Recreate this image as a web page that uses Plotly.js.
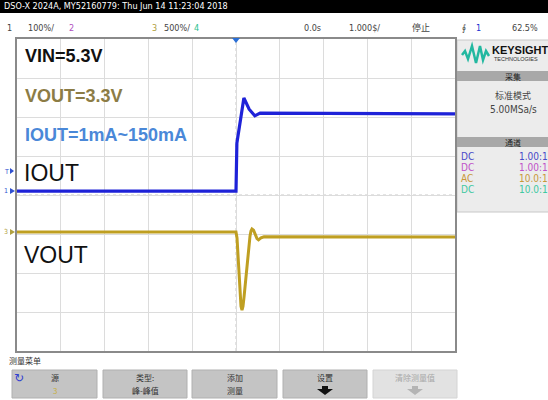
<!DOCTYPE html>
<html><head><meta charset="utf-8">
<script src="https://cdn.plot.ly/plotly-3.0.1.min.js"></script>
<style>html,body{margin:0;padding:0;background:#fff;}#chart{width:548px;height:400px;}</style>
</head><body><div id="chart"></div>
<script>
// ---- data (time in divisions, amplitude in divisions) ----
const ioutTime = [-5, 0, 0.02, 0.18, 0.30, 0.43, 0.55, 5];
const ioutLevel = [0.10, 0.10, 1.33, 2.49, 2.20, 2.03, 2.10, 2.08];
const voutTime = [-5, 0, 0.023, 0.046, 0.068, 0.091, 0.114, 0.137, 0.160, 0.183, 0.217, 0.251, 0.286, 0.320, 0.342, 0.365, 0.400, 0.434, 0.479, 0.514, 0.571, 0.64, 5];
const voutLevel = [-0.95, -0.95, -1.10, -1.50, -2.00, -2.50, -2.85, -2.95, -2.85, -2.62, -2.20, -1.75, -1.35, -1.05, -0.92, -0.87, -0.90, -1.00, -1.12, -1.15, -1.10, -1.07, -1.08];
const headerTitle = "DSO-X 2024A, MY52160779: Thu Jun 14 11:23:04 2018";
const headerItems = ["1", "100%/", "2", "3", "500%/", "4", "0.0s", "1.000$/", "停止", "∮", "1", "62.5%"];
const noteLines = ["VIN=5.3V", "VOUT=3.3V", "IOUT=1mA~150mA"];
const traceLabels = ["IOUT", "VOUT"];
const panelTexts = ["KEYSIGHT", "TECHNOLOGIES", "采集", "标准模式", "5.00MSa/s", "通道"];
const chanCoupling = ["DC", "DC", "AC", "DC"];
const chanProbe = ["1.00:1", "1.00:1", "10.0:1", "10.0:1"];
const menuTitle = "测量菜单";
const buttonTop = ["源", "类型:", "添加", "设置", "清除测量值"];
const buttonBottom = ["3", "峰-峰值", "测量", "", ""];

// ---- geometry helpers (pixel -> paper) ----
const L = 17, R = 455, T = 39, B = 351;
const X = px => (px - L) / (R - L);
const Y = py => (B - py) / (B - T);
const NARROW = "Liberation Sans Narrow, DejaVu Sans Condensed, sans-serif";
const CJK = "Noto Sans CJK SC, sans-serif";

const annotations = [];
const shapes = [];
function ann(text, px, py, size, color, extra) {
  annotations.push(Object.assign({
    text: text, xref: "paper", yref: "paper", x: X(px), y: Y(py),
    xanchor: "left", yanchor: "middle", showarrow: false,
    font: {size: size, color: color, family: NARROW}
  }, extra || {}));
}
function rect(x0, y0, x1, y1, fill, line, extra) {
  shapes.push(Object.assign({
    type: "rect", xref: "paper", yref: "paper", x0: X(x0), x1: X(x1), y0: Y(y0), y1: Y(y1),
    fillcolor: fill, line: {width: line ? 1 : 0, color: line || fill}, layer: "below"
  }, extra || {}));
}
function poly(pts, fill) {
  shapes.push({type: "path", xref: "paper", yref: "paper",
    path: "M " + pts.map(p => X(p[0]) + " " + Y(p[1])).join(" L ") + " Z",
    fillcolor: fill, line: {width: 0}});
}

// header
rect(0, 0, 548, 13, "#000000");
ann(headerTitle, 2, 6.5, 9, "#ffffff");
const hx = [5, 26, 67, 150, 162, 192, 302, 347, 410, 460, 474, 510];
const hc = ["#444", "#444", "#b050c0", "#b0a040", "#444", "#30c090", "#444", "#444", "#444", "#444", "#2030d0", "#444"];
headerItems.forEach((t, i) => ann(t, hx[i], 28, 9, hc[i], {font: {size: 9, color: hc[i], family: (t === "停止" ? CJK : NARROW)}}));

// center dotted axes
shapes.push({type: "line", xref: "paper", yref: "paper", x0: 0.5, x1: 0.5, y0: 0, y1: 1, line: {color: "#c8c8c8", width: 1, dash: "dot"}, layer: "below"});
shapes.push({type: "line", xref: "paper", yref: "paper", x0: 0, x1: 1, y0: 0.5, y1: 0.5, line: {color: "#c8c8c8", width: 1, dash: "dot"}, layer: "below"});

// trigger marker
poly([[232, 38], [240, 38], [236, 43]], "#2a6fd6");

// notes
const noteColors = ["#111111", "#8c7c45", "#4a88d8"];
const noteY = [56, 96, 135];
noteLines.forEach((t, i) => ann("<b>" + t + "</b>", 23, noteY[i], 18, noteColors[i], {font: {size: 18, color: noteColors[i], family: "Liberation Sans, sans-serif"}}));
ann(traceLabels[0], 22, 173, 23, "#111", {font: {size: 23, color: "#111", family: "Liberation Sans, sans-serif"}});
ann(traceLabels[1], 22, 255, 23, "#111", {font: {size: 23, color: "#111", family: "Liberation Sans, sans-serif"}});

// channel markers on left edge
ann("T", 6, 172, 7, "#3050d0", {xanchor: "center"});
ann("1", 6, 191, 7, "#3050d0", {xanchor: "center"});
ann("3", 6, 232, 7, "#b0a040", {xanchor: "center"});
poly([[10, 168], [14, 171], [10, 174]], "#3050d0");
poly([[10, 188], [15, 191], [10, 194]], "#3050d0");
poly([[10, 229], [15, 232], [10, 235]], "#b0a040");

// right panel
shapes.push({type: "rect", xref: "paper", yref: "paper", x0: X(457), x1: X(552), y0: Y(40), y1: Y(212), fillcolor: "#ececec", line: {color: "#c8c8c8", width: 1}, layer: "below"});
shapes.push({type: "path", xref: "paper", yref: "paper",
  path: `M ${X(462)} ${Y(55)} L ${X(465)} ${Y(51)} L ${X(468)} ${Y(59)} L ${X(472)} ${Y(46)} L ${X(476)} ${Y(63)} L ${X(480)} ${Y(46)} L ${X(483)} ${Y(60)} L ${X(486)} ${Y(51)} L ${X(489)} ${Y(56)}`,
  line: {color: "#22b8a0", width: 2.5}});
ann("<b>" + panelTexts[0] + "</b>", 490, 50, 11, "#111", {font: {size: 11, color: "#111", family: "Liberation Sans, sans-serif"}});
ann(panelTexts[1], 492, 59, 5.5, "#333", {font: {size: 5.5, color: "#333", family: "Liberation Sans, sans-serif"}});
rect(457, 71, 548, 81, "#a8a8a8");
ann(panelTexts[2], 513, 76, 8, "#222", {xanchor: "center", font: {size: 8, color: "#222", family: CJK}});
ann(panelTexts[3], 513, 95, 9, "#444", {xanchor: "center", font: {size: 9, color: "#444", family: CJK}});
ann(panelTexts[4], 513, 110, 10, "#444", {xanchor: "center"});
rect(457, 137, 548, 147, "#a8a8a8");
ann(panelTexts[5], 513, 142, 8, "#222", {xanchor: "center", font: {size: 8, color: "#222", family: CJK}});
const chanColors = ["#4848c8", "#c050c8", "#c89838", "#40c8a0"];
const chanY = [156, 167, 178, 190];
chanCoupling.forEach((t, i) => {
  ann(t, 459, chanY[i], 10, chanColors[i]);
  ann(chanProbe[i], 550, chanY[i], 10, chanColors[i], {xanchor: "right"});
});

// bottom menu
ann(menuTitle, 7, 361, 8, "#333", {font: {size: 8, color: "#333", family: CJK}});
const btnX = [[12, 97], [103, 187], [192, 277], [283, 367], [373, 457]];
btnX.forEach((b, i) => {
  const dis = i === 4;
  shapes.push({type: "rect", xref: "paper", yref: "paper", x0: X(b[0]), x1: X(b[1]), y0: Y(370), y1: Y(398),
    fillcolor: dis ? "#e2e2e2" : "#c4c4c4", line: {color: dis ? "#d4d4d4" : "#b0b0b0", width: 1}, layer: "below"});
  const cx = (b[0] + b[1]) / 2;
  const tc = dis ? "#a8a8a8" : "#333";
  ann(buttonTop[i], cx, 377, 8, tc, {xanchor: "center", font: {size: 8, color: tc, family: CJK}});
  if (buttonBottom[i]) {
    const bc = i === 0 ? "#c8b040" : tc;
    ann(buttonBottom[i], cx, 390.5, 8, bc, {xanchor: "center", font: {size: 8, color: bc, family: CJK}});
  } else {
    poly([[cx - 3, 386], [cx + 3, 386], [cx + 3, 389], [cx + 8, 389], [cx, 395], [cx - 8, 389], [cx - 3, 389]], dis ? "#b4b4b4" : "#111111");
  }
});
ann("↻", 19, 378, 12, "#3040d0", {xanchor: "center", font: {size: 12, color: "#3040d0", family: "DejaVu Sans, sans-serif"}});

const traces = [
  {x: ioutTime, y: ioutLevel, mode: "lines", line: {color: "#1e22d8", width: 3.2}, hoverinfo: "skip"},
  {x: voutTime, y: voutLevel, mode: "lines", line: {color: "#bf9f22", width: 3}, hoverinfo: "skip"}
];

const axis = {showgrid: true, gridcolor: "#dcdcdc", gridwidth: 1, zeroline: false, showticklabels: false, ticks: "",
  showline: true, mirror: true, linecolor: "#8a8a8a", linewidth: 2, fixedrange: true};
const layout = {
  width: 548, height: 400, margin: {l: L, r: 548 - R, t: T, b: 400 - B, pad: 0},
  paper_bgcolor: "#ffffff", plot_bgcolor: "#ffffff", showlegend: false,
  xaxis: Object.assign({range: [-5, 5], dtick: 1, tick0: 0}, axis),
  yaxis: Object.assign({range: [-4, 4], dtick: 1, tick0: 0}, axis),
  annotations: annotations, shapes: shapes
};
Plotly.newPlot("chart", traces, layout, {staticPlot: true, displayModeBar: false});
</script></body></html>
